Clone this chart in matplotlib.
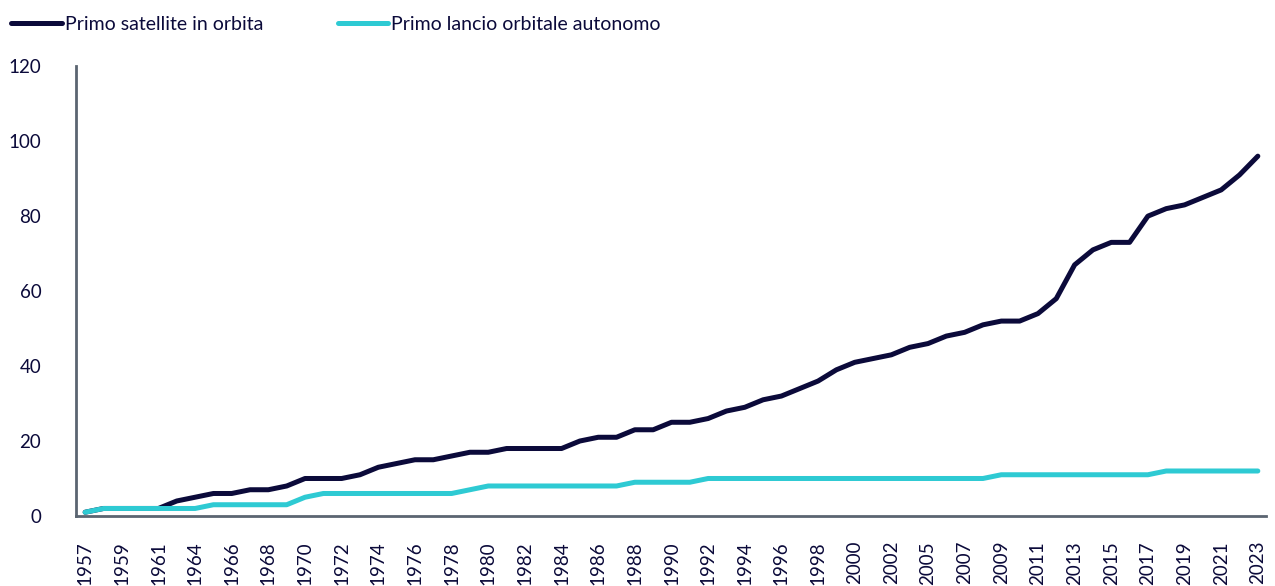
import matplotlib
matplotlib.use("Agg")
import matplotlib.pyplot as plt

plt.rcParams['font.family'] = ['Lato', 'DejaVu Sans']

# years shown on the axis (1963 and 2004 are not in the series)
years = list(range(1957, 1963)) + list(range(1964, 2004)) + list(range(2005, 2024))

# cumulative number of countries
primo_satellite = [1, 2, 2, 2, 2, 4, 5, 6, 6, 7, 7, 8, 10, 10, 10, 11, 13, 14, 15, 15,
                   16, 17, 17, 18, 18, 18, 18, 20, 21, 21, 23, 23, 25, 25, 26, 28, 29, 31,
                   32, 34, 36, 39, 41, 42, 43, 45, 46, 48, 49, 51, 52, 52, 54, 58, 67, 71,
                   73, 73, 80, 82, 83, 85, 87, 91, 96]
primo_lancio = [1, 2, 2, 2, 2, 2, 2, 3, 3, 3, 3, 3, 5, 6, 6, 6, 6, 6, 6, 6,
                6, 7, 8, 8, 8, 8, 8, 8, 8, 8, 9, 9, 9, 9, 10, 10, 10, 10,
                10, 10, 10, 10, 10, 10, 10, 10, 10, 10, 10, 10, 11, 11, 11, 11, 11, 11,
                11, 11, 11, 12, 12, 12, 12, 12, 12]

navy = '#0b0a3a'
teal = '#2ecad3'
grey = '#5b6571'

fig = plt.figure(figsize=(12.75, 5.86), dpi=100)
ax = fig.add_axes([0.0596, 0.1195, 0.9334, 0.7675])

x = list(range(len(years)))
# teal drawn over navy where they overlap (as in the original)
ax.plot(x, primo_satellite, color=navy, lw=3.6, solid_capstyle='round',
        solid_joinstyle='round', label='Primo satellite in orbita', zorder=2)
ax.plot(x, primo_lancio, color=teal, lw=3.6, solid_capstyle='round',
        solid_joinstyle='round', label='Primo lancio orbitale autonomo', zorder=3)

ax.set_xlim(-0.5, 64.45)
ax.set_ylim(0, 120)
ax.set_yticks(range(0, 121, 20))
ax.set_xticks(x[::2])
ax.set_xticklabels([str(y) for y in years[::2]], rotation=90)
ax.tick_params(axis='both', length=0, labelsize=13.5, colors=navy)
ax.tick_params(axis='y', pad=25)
ax.tick_params(axis='x', pad=18)

for s in ['top', 'right']:
    ax.spines[s].set_visible(False)
for s in ['left', 'bottom']:
    ax.spines[s].set_color(grey)
    ax.spines[s].set_linewidth(2)

fig.legend(loc='upper left', bbox_to_anchor=(-0.005, 1.003), ncol=2, frameon=False,
           fontsize=14, handlelength=2.6, handletextpad=0.15, columnspacing=3.85,
           labelcolor=navy)

fig.savefig('out.png', dpi=100)
